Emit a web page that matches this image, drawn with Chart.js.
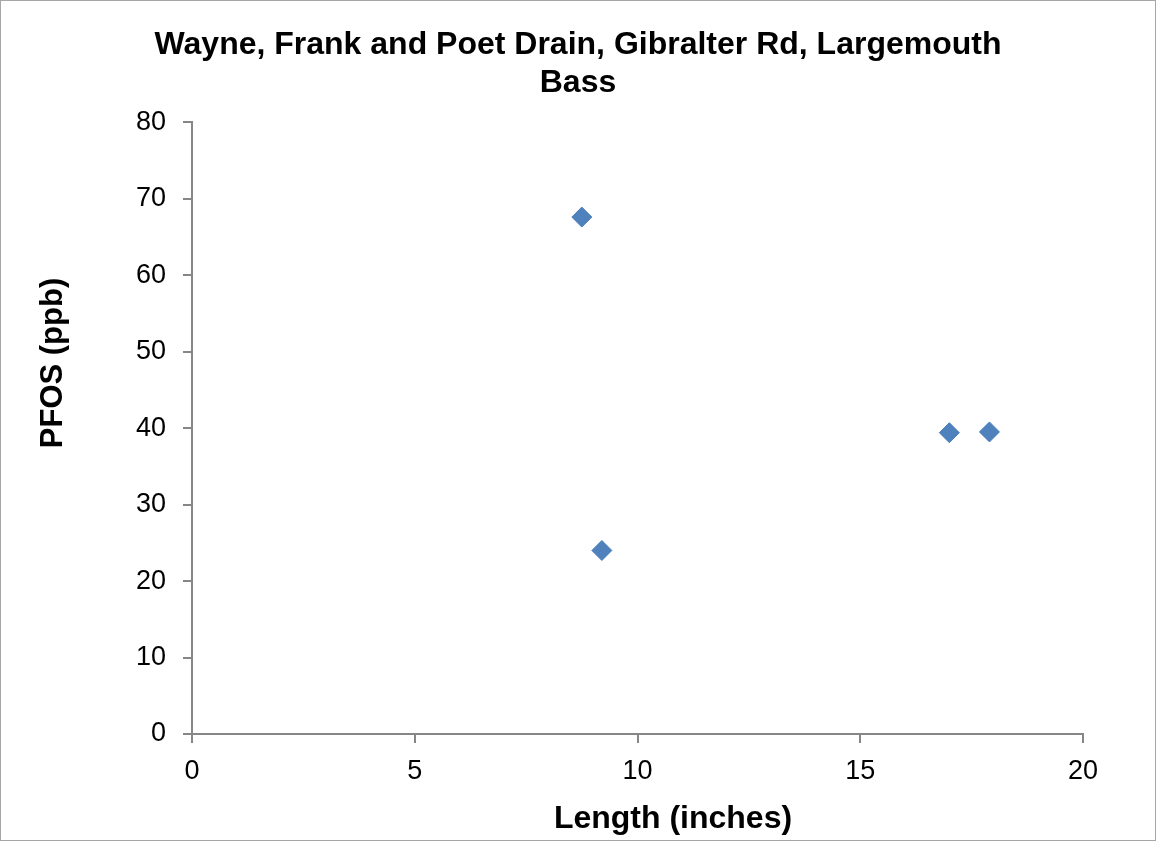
<!DOCTYPE html>
<html>
<head>
<meta charset="utf-8">
<title>Wayne, Frank and Poet Drain, Gibralter Rd, Largemouth Bass</title>
<script src="https://cdn.jsdelivr.net/npm/chart.js@4.4.1/dist/chart.umd.min.js"></script>
<style>
  html, body { margin: 0; padding: 0; background: #ffffff; }
  #chart { display: block; }
</style>
</head>
<body>
<canvas id="chart" width="1156" height="842"></canvas>
<script>
const lengthInches = [8.75, 9.2, 17.0, 17.9];
const pfosPpb = [67.6, 24.0, 39.4, 39.5];
const titleLines = ["Wayne, Frank and Poet Drain, Gibralter Rd, Largemouth", "Bass"];
const xAxisTitle = "Length (inches)";
const yAxisTitle = "PFOS (ppb)";

const fontFamily = "'Liberation Sans', Arial, sans-serif";
const axisColor = "#868686";

// axis titles sit off-centre in the original, so draw them ourselves
const axisTitles = {
  id: "axisTitles",
  beforeDraw(chart) {
    const ctx = chart.ctx;
    ctx.save();
    ctx.strokeStyle = "#a6a6a6";
    ctx.lineWidth = 1;
    ctx.strokeRect(0.5, 0.5, chart.width - 1, chart.height - 2);
    ctx.restore();
  },
  afterDraw(chart) {
    const ctx = chart.ctx;
    ctx.save();
    ctx.fillStyle = "#000000";
    ctx.textAlign = "center";
    ctx.textBaseline = "alphabetic";
    ctx.font = "bold 32px " + fontFamily;
    ctx.fillText(xAxisTitle, 673, 828);
    ctx.font = "bold 31px " + fontFamily;
    ctx.translate(62, 363);
    ctx.rotate(-Math.PI / 2);
    ctx.fillText(yAxisTitle, 0, 0);
    ctx.restore();
  },
};

const ctx = document.getElementById("chart");
new Chart(ctx, {
  type: "scatter",
  data: {
    datasets: [
      {
        label: "PFOS",
        data: lengthInches.map((x, i) => ({ x: x, y: pfosPpb[i] })),
        pointStyle: "rectRot",
        pointRadius: 10,
        pointHoverRadius: 10,
        backgroundColor: "#4F81BD",
        borderColor: "#4A7EBB",
        borderWidth: 1,
      },
    ],
  },
  options: {
    responsive: false,
    animation: false,
    devicePixelRatio: 1,
    layout: { padding: { left: 73, right: 73, top: 0, bottom: 0 } },
    plugins: {
      legend: { display: false },
      tooltip: { enabled: false },
      title: {
        display: true,
        text: titleLines,
        color: "#000000",
        font: { family: fontFamily, size: 32, weight: "bold", lineHeight: 1.16 },
        padding: { top: 27, bottom: 21 },
      },
    },
    scales: {
      x: {
        type: "linear",
        min: 0,
        max: 20,
        ticks: {
          stepSize: 5,
          color: "#000000",
          padding: 12,
          font: { family: fontFamily, size: 27 },
        },
        grid: { drawOnChartArea: false, drawTicks: true, tickLength: 9, color: axisColor, lineWidth: 2 },
        border: { display: true, color: axisColor, width: 2 },
        afterFit(scale) {
          scale.height = 108;
        },
      },
      y: {
        type: "linear",
        min: 0,
        max: 80,
        ticks: {
          stepSize: 10,
          color: "#000000",
          padding: 17,
          font: { family: fontFamily, size: 27 },
        },
        grid: { drawOnChartArea: false, drawTicks: true, tickLength: 9, color: axisColor, lineWidth: 2 },
        border: { display: true, color: axisColor, width: 2 },
        afterFit(scale) {
          scale.width = 119;
        },
      },
    },
  },
  plugins: [axisTitles],
});
</script>
</body>
</html>
